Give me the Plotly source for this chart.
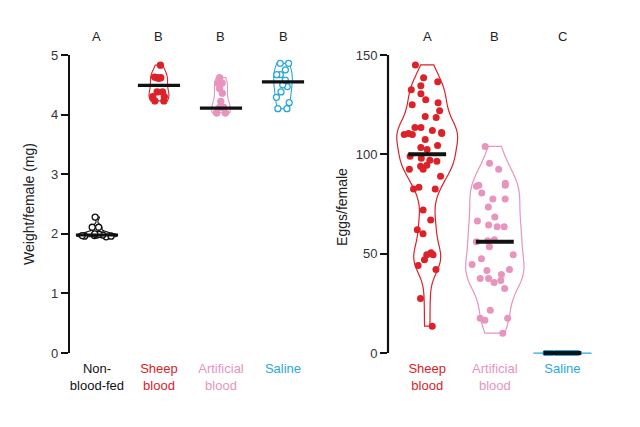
import plotly.graph_objects as go

FONT = "Liberation Sans, Arial, sans-serif"

# ---------------- data: left panel (weight per female, mg) ----------------
w_groups = ["Non-<br>blood-fed", "Sheep<br>blood", "Artificial<br>blood", "Saline"]
w_letters = ["A", "B", "B", "B"]
w_nonfed = [2.28, 2.11, 2.11, 2.0, 1.99, 1.98, 1.98, 1.97, 1.97, 1.96, 1.96, 1.95]
w_sheep = [4.83, 4.62, 4.62, 4.63, 4.61, 4.38, 4.38, 4.30, 4.30, 4.23, 4.23]
w_artificial = [4.62, 4.53, 4.53, 4.44, 4.36, 4.22, 4.12, 4.12, 4.03, 4.03, 4.03, 4.03]
w_saline = [4.86, 4.86, 4.75, 4.67, 4.67, 4.58, 4.50, 4.47, 4.38, 4.29, 4.20, 4.10, 4.10]
w_centre = [1.98, 4.49, 4.11, 4.55]
w_ticks = [0, 1, 2, 3, 4, 5]

# ---------------- data: right panel (eggs per female) ----------------
e_groups = ["Sheep<br>blood", "Artificial<br>blood", "Saline"]
e_letters = ["A", "B", "C"]
e_sheep = [145, 138.5, 136.5, 134.5, 132.5, 130.5, 127.5, 126, 125, 122, 119, 118.5,
           113.5, 113.5, 112, 111, 110.5, 110.5, 110, 110, 107.5, 104.5, 103.5, 102.5,
           99, 98, 97, 96.5, 94.5, 94, 92.5, 92.5, 89, 83.5, 82.5, 82.5, 72, 67, 62, 60,
           50.5, 49.5, 49.5, 47, 44, 42, 27.5, 13.5]
e_artificial = [104, 95.5, 92.5, 85.5, 84.5, 84.5, 84, 80.5, 77.5, 77.5, 73.5, 68.5,
                66.5, 64.5, 63.5, 63.5, 57, 56.5, 56, 53.5, 49.5, 47.5, 44.5, 42, 41.5,
                39.5, 37.5, 37.5, 36.5, 35.5, 32.5, 21.5, 17.5, 17.5, 16.5, 10]
e_saline = [0] * 30
e_centre = [100, 56, 0]
e_ticks = [0, 50, 100, 150]

# ---------------- styles ----------------
BLACK = "#111111"
RED = "#dc2228"
PINK = "#e993bf"
BLUE = "#2aa8de"
w_colors = [BLACK, RED, PINK, BLUE]
e_colors = [RED, PINK, BLUE]
w_open = [True, False, False, True]
w_vwidth = [0.66, 0.32, 0.30, 0.30]
e_vwidth = [0.90, 0.86]

# page body has an 8px margin: lay out in figure pixels = screen pixels - 8
OFF = 8
W, H = 640 - OFF, 427 - OFF
def fx(px):
    return (px - OFF) / W
def fy(py):
    return 1 - (py - OFF) / H

fig = go.Figure()

# left violins
w_data = [w_nonfed, w_sheep, w_artificial, w_saline]
for i, vals in enumerate(w_data):
    c = w_colors[i]
    fig.add_trace(go.Violin(
        x=[i] * len(vals), y=vals, xaxis="x", yaxis="y",
        spanmode="hard", width=w_vwidth[i], scalemode="width",
        line=dict(color=c, width=1.1), fillcolor="rgba(0,0,0,0)",
        points="all", pointpos=0, jitter=0.95,
        marker=dict(size=6, color="white" if w_open[i] else c,
                    line=dict(color=c, width=1.3)),
        box_visible=False, meanline_visible=False, showlegend=False,
        hoverinfo="y"))

# right violins
e_data = [e_sheep, e_artificial]
e_bw = [7, 9]
for i, vals in enumerate(e_data):
    c = e_colors[i]
    fig.add_trace(go.Violin(
        x=[i] * len(vals), y=vals, xaxis="x2", yaxis="y2",
        spanmode="hard", width=e_vwidth[i], scalemode="width", bandwidth=e_bw[i],
        line=dict(color=c, width=1.2), fillcolor="rgba(0,0,0,0)",
        points="all", pointpos=0, jitter=0.85,
        marker=dict(size=7, color=c, line=dict(width=0)),
        box_visible=False, meanline_visible=False, showlegend=False,
        hoverinfo="y"))

# saline eggs: all zero -> flat box with jittered points
fig.add_trace(go.Box(
    x=[2] * len(e_saline), y=e_saline, xaxis="x2", yaxis="y2",
    width=0.86, line=dict(color=BLUE, width=1.3), fillcolor="rgba(0,0,0,0)",
    boxpoints="all", pointpos=0, jitter=0.6,
    marker=dict(size=6, color=BLUE), showlegend=False, hoverinfo="y"))

# centre bars
for i, c in enumerate(w_centre):
    fig.add_trace(go.Scatter(x=[i - 0.34, i + 0.34], y=[c, c], xaxis="x", yaxis="y",
                             mode="lines", line=dict(color=BLACK, width=3.2),
                             showlegend=False, hoverinfo="skip"))
for i, c in enumerate(e_centre):
    fig.add_trace(go.Scatter(x=[i - 0.28, i + 0.28], y=[c, c], xaxis="x2", yaxis="y2",
                             mode="lines", line=dict(color=BLACK, width=4),
                             showlegend=False, hoverinfo="skip"))

def ticktext(groups, colors):
    return ['<span style="color:%s">%s</span>' % (c, g) for g, c in zip(groups, colors)]

axis_font = dict(family=FONT, size=13, color="#333333")

fig.update_layout(
    width=W, height=H, margin=dict(l=0, r=0, t=0, b=0),
    paper_bgcolor="white", plot_bgcolor="white",
    font=dict(family=FONT, color="#333333"),
    xaxis=dict(domain=[fx(70), fx(314)], range=[-0.435, 3.5], automargin=False,
               tickmode="array", tickvals=list(range(4)),
               ticktext=ticktext(w_groups, w_colors),
               showgrid=False, zeroline=False, showline=False, ticks="",
               tickfont=axis_font, anchor="y", ticklabelstandoff=6),
    yaxis=dict(domain=[fy(353), fy(55)], range=[0, 5], automargin=False,
               tickmode="array", tickvals=w_ticks,
               showgrid=False, zeroline=False, showline=True, linecolor=BLACK,
               linewidth=2.2, ticks="outside", ticklen=7, tickwidth=2,
               tickcolor=BLACK, tickfont=axis_font, anchor="x",
               title=dict(text="Weight/female (mg)", font=dict(family=FONT, size=14, color="#222"),
                          standoff=13)),
    xaxis2=dict(domain=[fx(388), fx(603)], range=[-0.58, 2.6], automargin=False,
                tickmode="array", tickvals=list(range(3)),
                ticktext=ticktext(e_groups, e_colors),
                showgrid=False, zeroline=False, showline=False, ticks="",
                tickfont=axis_font, anchor="y2", ticklabelstandoff=0),
    yaxis2=dict(domain=[fy(359), fy(55)], range=[-3, 150], automargin=False,
                tickmode="array", tickvals=e_ticks,
                showgrid=False, zeroline=False, showline=False,
                ticks="outside", ticklen=7, tickwidth=2,
                tickcolor=BLACK, tickfont=axis_font, anchor="x2",
                title=dict(text="Eggs/female", font=dict(family=FONT, size=14, color="#222"),
                           standoff=4)),
    shapes=[dict(type="line", xref="x2 domain", yref="y2", x0=0, x1=0,
                 y0=e_ticks[0], y1=e_ticks[-1], line=dict(color=BLACK, width=2.2))],
)

ann = []
for i, t in enumerate(w_letters):
    ann.append(dict(x=i, y=fy(37), xref="x", yref="paper", yanchor="middle", text=t,
                    showarrow=False, font=dict(family=FONT, size=13, color="#222")))
for i, t in enumerate(e_letters):
    ann.append(dict(x=i, y=fy(37), xref="x2", yref="paper", yanchor="middle", text=t,
                    showarrow=False, font=dict(family=FONT, size=13, color="#222")))
fig.update_layout(annotations=ann)

fig.write_html("out.html")
